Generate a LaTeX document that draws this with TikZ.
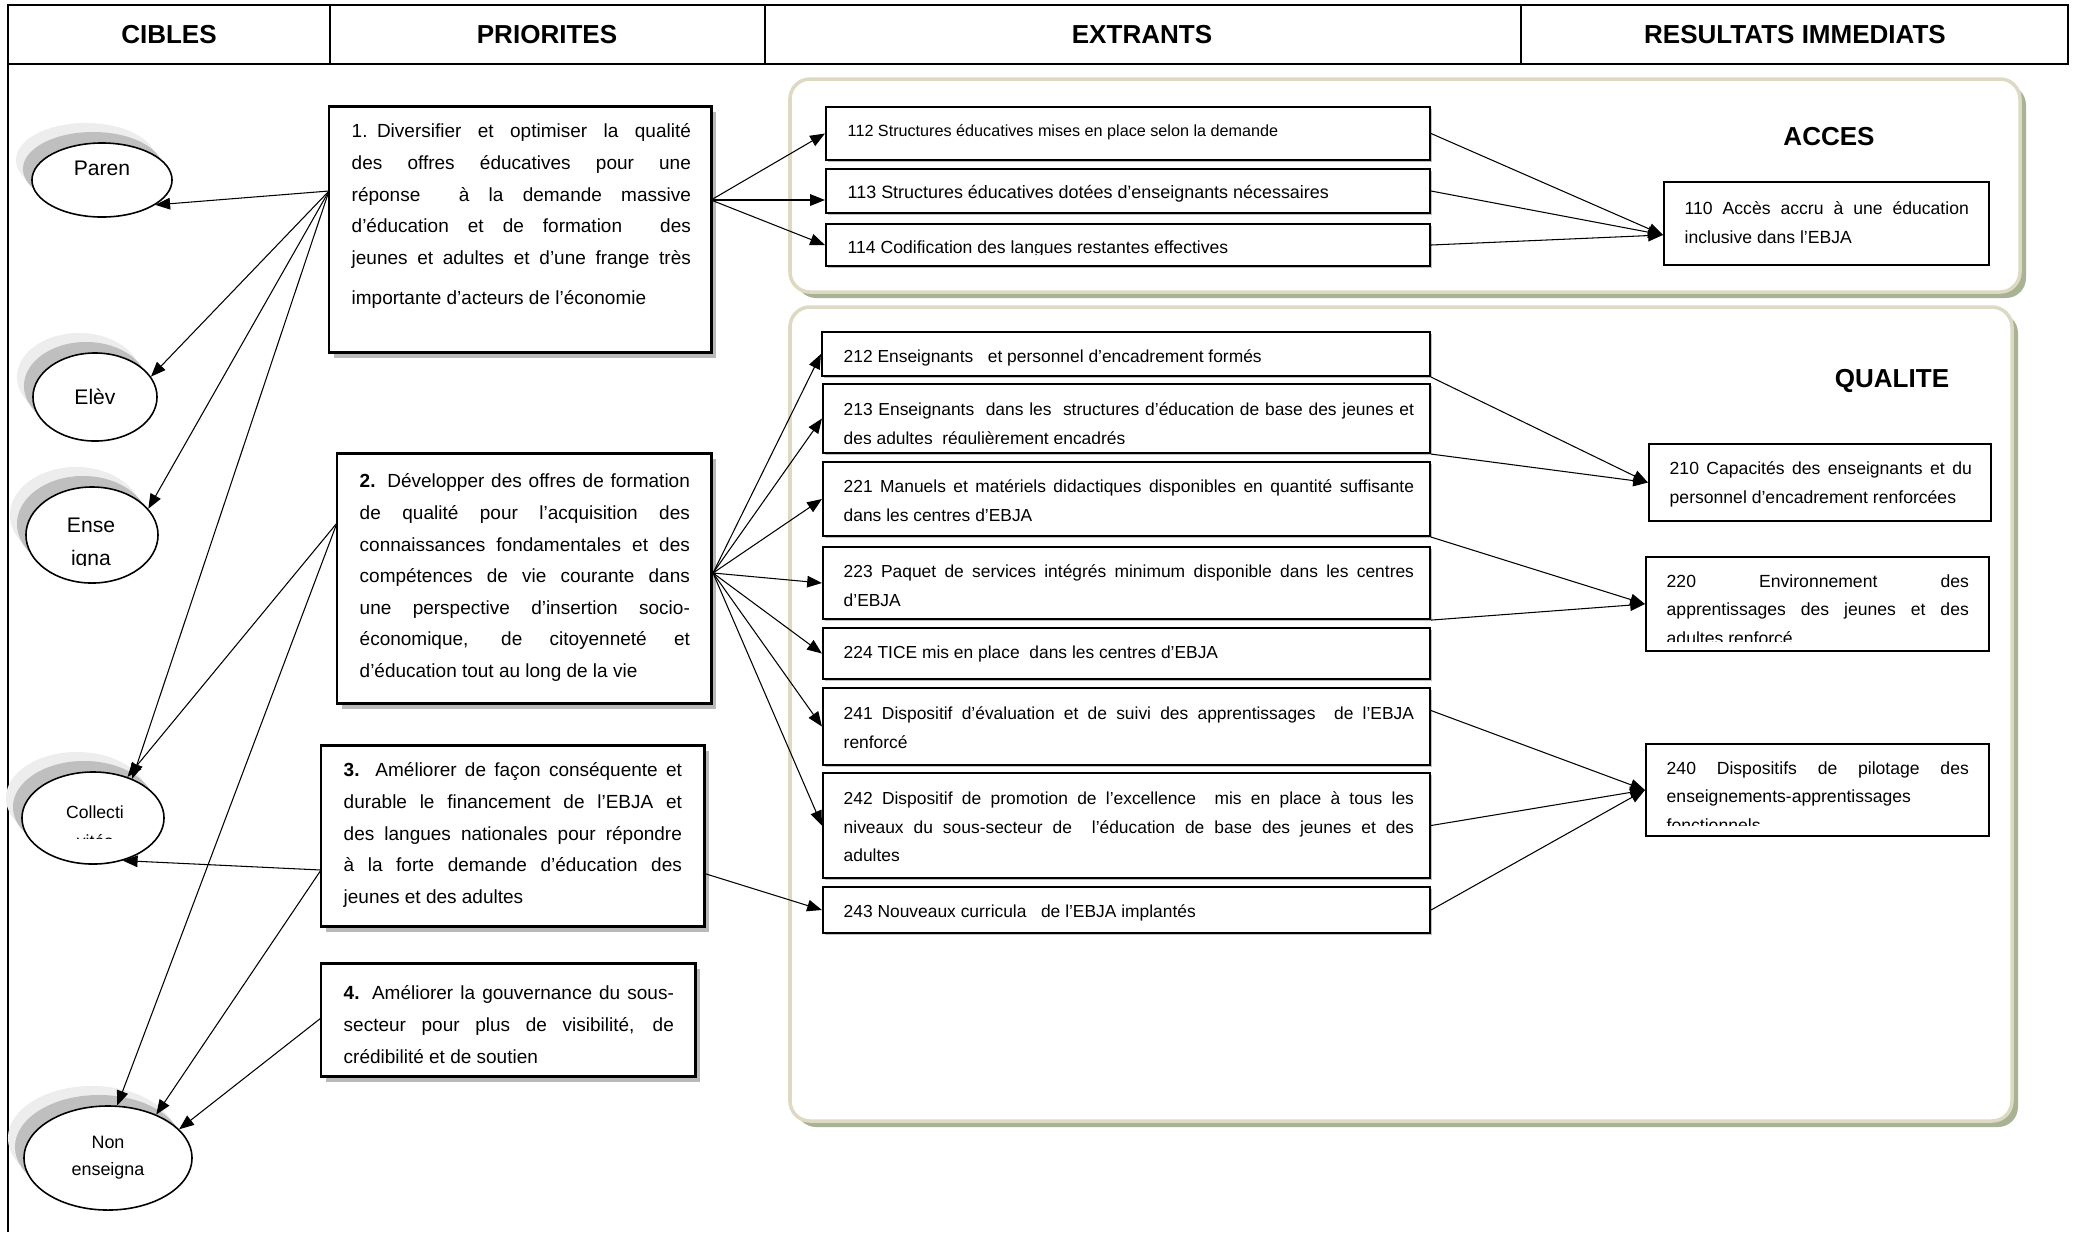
\documentclass[tikz,border=0pt]{standalone}
\usepackage{fontspec}
\setmainfont{Liberation Sans}
\usetikzlibrary{arrows.meta,shapes.geometric,shadows,fit}

\definecolor{panelline}{RGB}{221,217,195}
\definecolor{panelshade}{RGB}{168,178,148}

\tikzset{
  head/.style={font=\fontsize{7.4}{9}\selectfont\bfseries},
  cible/.style={ellipse, draw, line width=0.45pt, fill=white, inner sep=0pt,
    drop shadow={shadow xshift=-0.16cm, shadow yshift=0.2cm, fill=gray!14, opacity=1},
    drop shadow={shadow xshift=-0.09cm, shadow yshift=0.11cm, fill=gray!50, opacity=1}},
  panel/.style={draw=panelline, line width=1pt, fill=white, rounded corners=0.2cm, inner sep=0pt,
    drop shadow={shadow xshift=0.06cm, shadow yshift=-0.06cm, fill=panelshade, opacity=1}},
  prio/.style={draw, line width=0.85pt, fill=white, inner sep=0pt,
    drop shadow={shadow xshift=0.05cm, shadow yshift=-0.06cm, fill=gray!55, opacity=1}},
  extr/.style={draw, line width=0.6pt, fill=white, inner sep=0pt,
    drop shadow={shadow xshift=0.02cm, shadow yshift=-0.02cm, fill=gray!50, opacity=1}},
  resu/.style={draw, line width=0.6pt, fill=white, inner sep=0pt},
  ptext/.style={anchor=north west, inner sep=0pt, align=justify, font=\fontsize{5.4}{9}\selectfont},
  etext/.style={anchor=north west, inner sep=0pt, align=justify, text width=5.70cm, font=\fontsize{4.95}{8.1}\selectfont},
  rtext/.style={anchor=north west, inner sep=0pt, align=justify, text width=3.02cm, font=\fontsize{5}{8.1}\selectfont},
  arr/.style={-{Triangle[length=4.2pt,width=3.3pt]}, line width=0.3pt},
}

\begin{document}
\begin{tikzpicture}[x=0.01cm, y=-0.01cm]
\useasboundingbox (0,0) rectangle (2075,1232);

% header row
\draw[line width=0.45pt] (8,5) rectangle (2068,64);
\draw[line width=0.45pt] (330,5) -- (330,64) (765,5) -- (765,64) (1521,5) -- (1521,64);
\draw[line width=0.45pt] (8,64) -- (8,1232);
\node[head] (h1) at (169,35) {CIBLES};
\node[head] (h2) at (547,35) {PRIORITES};
\node[head] (h3) at (1142,35) {EXTRANTS};
\node[head] (h4) at (1795,35) {RESULTATS IMMEDIATS};

% result panels
\node[panel, fit={(790,79) (2020,292)}] (acc) {};
\node[panel, fit={(790,307) (2012,1121)}] (qua) {};
\node[head] (accl) at (1829,137) {ACCES};
\node[head] (qual) at (1892,381) {QUALITE};

% priorities
\node[prio, fit={(329,106) (711,352)}] (p1) {};
\node[prio, fit={(337,453) (711,703)}] (p2) {};
\node[prio, fit={(321,745) (704,926)}] (p3) {};
\node[prio, fit={(321,963) (695,1076)}] (p4) {};
\node[ptext, text width=3.39cm] (p1t) at (351,123) {1.\enspace Diversifier et optimiser la qualité\linebreak des offres éducatives pour une\linebreak réponse\ \ à la demande massive\linebreak d’éducation et de formation\ \ des\linebreak jeunes et adultes et d’une frange très\vspace{2.3pt}\linebreak importante d’acteurs de l’économie};
\node[ptext, text width=3.30cm] (p2t) at (359,473) {\textbf{2.} Développer des offres de formation\linebreak de qualité pour l’acquisition des\linebreak connaissances fondamentales et des\linebreak compétences de vie courante dans\linebreak une perspective d’insertion socio-\linebreak économique, de citoyenneté et\linebreak d’éducation tout au long de la vie};
\node[ptext, text width=3.38cm] (p3t) at (343,762) {\textbf{3.} Améliorer de façon conséquente et\linebreak durable le financement de l’EBJA et\linebreak des langues nationales pour répondre\linebreak à la forte demande d’éducation des\linebreak jeunes et des adultes};
\node[ptext, text width=3.30cm] (p4t) at (343,985) {\textbf{4.} Améliorer la gouvernance du sous-\linebreak secteur pour plus de visibilité, de\linebreak crédibilité et de soutien};

% extrants
\node[extr, fit={(826,107) (1430,160)}] (e112) {};
\node[extr, fit={(826,169) (1430,213)}] (e113) {};
\node[extr, fit={(826,224) (1430,266)}] (e114) {};
\node[extr, fit={(822,332) (1430,376)}] (e212) {};
\node[extr, fit={(823,384) (1430,453)}] (e213) {};
\node[extr, fit={(823,462) (1430,536)}] (e221) {};
\node[extr, fit={(823,547) (1430,619)}] (e223) {};
\node[extr, fit={(823,628) (1430,679)}] (e224) {};
\node[extr, fit={(823,688) (1430,765)}] (e241) {};
\node[extr, fit={(823,773) (1430,878)}] (e242) {};
\node[extr, fit={(823,887) (1430,933)}] (e243) {};
\node[etext, font=\fontsize{4.6}{8}\selectfont] (e112t) at (847,124) {112 Structures éducatives mises en place selon la demande};
\node[etext, font=\fontsize{5.1}{8}\selectfont] (e113t) at (847,185) {113 Structures éducatives dotées d’enseignants nécessaires};
\begin{scope}
\clip (830,226) rectangle (1428,254);
\node[etext, font=\fontsize{5}{8}\selectfont] (e114t) at (847,240) {114 Codification des langues restantes effectives};
\end{scope}
\node[etext] (e212t) at (843,349) {212 Enseignants\ \ \ et personnel d’encadrement formés};
\begin{scope}
\clip (826,386) rectangle (1428,443);
\node[etext] (e213t) at (843,402) {213 Enseignants\ \ dans les\ \ structures d’éducation de base des jeunes et\linebreak des adultes\ \ régulièrement encadrés};
\end{scope}
\node[etext] (e221t) at (843,479) {221 Manuels et matériels didactiques disponibles en quantité suffisante\linebreak dans les centres d’EBJA};
\node[etext] (e223t) at (843,564) {223 Paquet de services intégrés minimum disponible dans les centres\linebreak d’EBJA};
\node[etext] (e224t) at (843,645) {224 TICE mis en place\ \ dans les centres d’EBJA};
\node[etext] (e241t) at (843,706) {241 Dispositif d’évaluation et de suivi des apprentissages\ \ de l’EBJA\linebreak renforcé};
\node[etext] (e242t) at (843,791) {242 Dispositif de promotion de l’excellence\ \ mis en place à tous les\linebreak niveaux du sous-secteur de\ \ l’éducation de base des jeunes et des\linebreak adultes};
\node[etext] (e243t) at (843,904) {243 Nouveaux curricula\ \ \ de l’EBJA implantés};

% resultats immediats
\node[resu, fit={(1664,182) (1989,265)}] (r110) {};
\node[resu, fit={(1649,444) (1991,521)}] (r210) {};
\node[resu, fit={(1646,557) (1989,651)}] (r220) {};
\node[resu, fit={(1646,744) (1989,836)}] (r240) {};
\node[rtext, text width=2.84cm] (r110t) at (1684,201) {110 Accès accru à une éducation\linebreak inclusive dans l’EBJA};
\node[rtext] (r210t) at (1669,461) {210 Capacités des enseignants et du\linebreak personnel d’encadrement renforcées};
\begin{scope}
\clip (1648,559) rectangle (1987,641);
\node[rtext] (r220t) at (1666,574) {220 Environnement des\linebreak apprentissages des jeunes et des\linebreak adultes renforcé};
\end{scope}
\begin{scope}
\clip (1648,746) rectangle (1987,825);
\node[rtext] (r240t) at (1666,761) {240 Dispositifs de pilotage des\linebreak enseignements-apprentissages\linebreak fonctionnels};
\end{scope}

% cibles
\node[cible, minimum width=1.40cm, minimum height=0.74cm] (par) at (102,180) {};
\node[cible, minimum width=1.24cm, minimum height=0.88cm, font=\fontsize{6}{8}\selectfont] (elv) at (95,397) {Elèv};
\node[cible, minimum width=1.32cm, minimum height=0.96cm] (ens) at (92,535) {};
\node[cible, minimum width=1.42cm, minimum height=0.92cm] (col) at (93,818) {};
\node[cible, minimum width=1.68cm, minimum height=1.04cm, align=center, font=\fontsize{5.1}{7.7}\selectfont] (non) at (108,1158) {Non\\enseigna};
\node[font=\fontsize{6}{8}\selectfont] (part) at (102,168) {Paren};
\begin{scope}
\clip (20,480) rectangle (170,565);
\node[align=center, font=\fontsize{6}{9.5}\selectfont] (enst) at (91,544) {Ense\\igna};
\end{scope}
\begin{scope}
\clip (15,760) rectangle (175,838);
\node[align=center, font=\fontsize{5}{8.3}\selectfont] (colt) at (95,827) {Collecti\\vités};
\end{scope}

% connectors
\coordinate (p1w) at (329,191);
\coordinate (p1e) at (711,200);
\coordinate (p2w) at (337,523);
\coordinate (p2e) at (713,573);
\coordinate (p3w) at (321,870);
\coordinate (p3e) at (703,873);
\coordinate (p4w) at (321,1018);
\draw[arr] (p1w) -- (par.-25);
\draw[arr] (p1w) -- (elv.20);
\draw[arr] (p1w) -- (ens.25);
\draw[arr] (p1w) -- (col.45);
\draw[arr] (p2w) -- (col.50);
\draw[arr] (p2w) -- (non.80);
\draw[arr] (p3w) -- (col.-55);
\draw[arr] (p3w) -- (non.42);
\draw[arr] (p4w) -- (non.22);
\draw[arr] (p1e) -- (e112.west);
\draw[arr] (p1e) -- (e113.west |- p1e);
\draw[arr] (p1e) -- (e114.west);
\draw[arr] (p2e) -- (e212.west);
\draw[arr] (p2e) -- (e213.west);
\draw[arr] (p2e) -- (e221.west);
\draw[arr] (p2e) -- (e223.west);
\draw[arr] (p2e) -- (e224.west);
\draw[arr] (p2e) -- (e241.west);
\draw[arr] (p2e) -- (e242.west);
\draw[arr] (p3e) -- (e243.west);
\draw[arr] (e112.east) -- (r110.184);
\draw[arr] (e113.east) -- (r110.184);
\draw[arr] (e114.east) -- (r110.184);
\draw[arr] (e212.south east) -- (r210.west);
\draw[arr] (e213.south east) -- (r210.west);
\draw[arr] (e221.south east) -- (r220.west);
\draw[arr] (e223.south east) -- (r220.west);
\draw[arr] (e241.3) -- (r240.west);
\draw[arr] (e242.east) -- (r240.west);
\draw[arr] (e243.east) -- (r240.west);
\end{tikzpicture}
\end{document}
